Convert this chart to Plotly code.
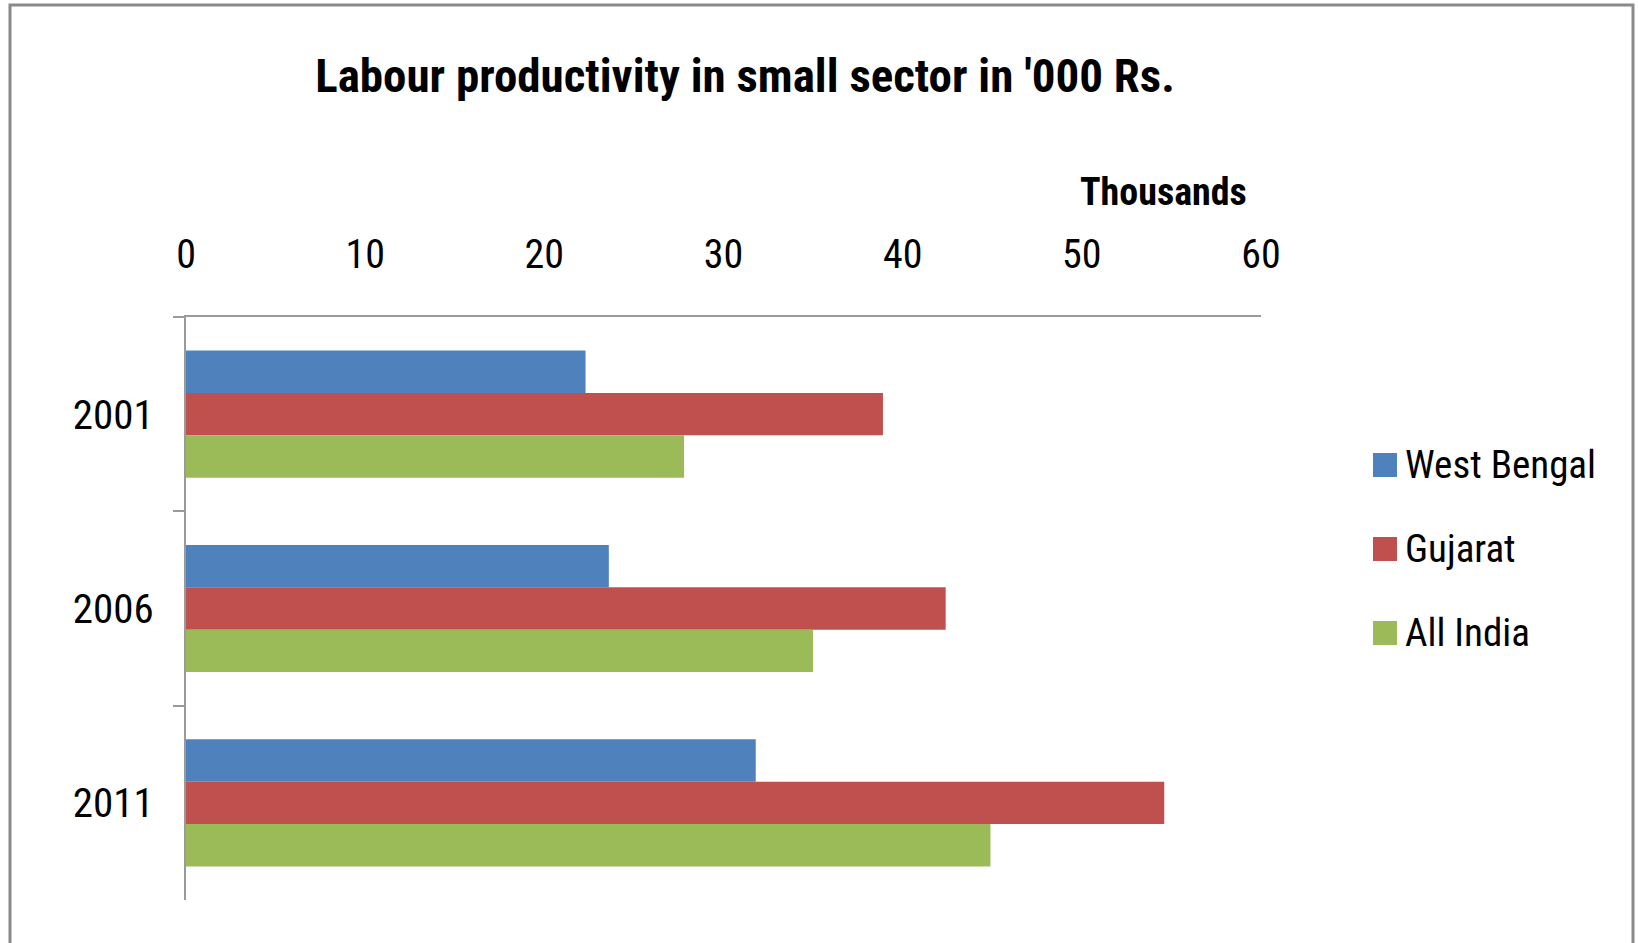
import plotly.graph_objects as go

years = ["2001", "2006", "2011"]
series_names = ["West Bengal", "Gujarat", "All India"]
west_bengal = [22300, 23600, 31800]
gujarat = [38900, 42400, 54600]
all_india = [27800, 35000, 44900]
tick_values = [0, 10000, 20000, 30000, 40000, 50000, 60000]
tick_labels = ["0", "10", "20", "30", "40", "50", "60"]

colors = ["#4F81BD", "#C0504D", "#9BBB59"]
FONT = "Liberation Sans Narrow, Roboto Condensed, DejaVu Sans Condensed, Liberation Sans, sans-serif"

W, H = 1638, 943
L, R, T, B = 186, 1261, 317, 900

def px(x):
    return (x - L) / (R - L)

def py(y):
    return (B - y) / (B - T)

fig = go.Figure()
for name, vals, col in zip(series_names, [west_bengal, gujarat, all_india], colors):
    fig.add_trace(go.Bar(
        y=years, x=vals, name=name, orientation="h",
        marker=dict(color=col, line=dict(width=0)),
        showlegend=False,
    ))

# manual legend
leg_y = [465, 549, 633]
for name, col, yc in zip(series_names, colors, leg_y):
    fig.add_shape(type="rect", xref="paper", yref="paper",
                  x0=px(1373), x1=px(1397), y0=py(yc + 12), y1=py(yc - 12),
                  fillcolor=col, line=dict(width=0))
    fig.add_annotation(xref="paper", yref="paper", x=px(1403), y=py(yc),
                       text=name, showarrow=False, xanchor="left", yanchor="middle",
                       font=dict(family=FONT, size=39, color="#000"))

# outer border
fig.add_shape(type="rect", xref="paper", yref="paper",
              x0=px(10), x1=px(1633), y0=py(960), y1=py(5),
              line=dict(color="#8a8a8a", width=3), fillcolor="rgba(0,0,0,0)", layer="below")

fig.add_annotation(xref="paper", yref="paper", x=px(1163), y=py(192),
                   text="<b>Thousands</b>", showarrow=False, xanchor="center", yanchor="middle",
                   font=dict(family=FONT, size=38, color="#000"))

fig.update_layout(
    width=W, height=H,
    margin=dict(l=L, r=W - R, t=T, b=H - B, autoexpand=False),
    paper_bgcolor="white", plot_bgcolor="white",
    barmode="group", bargap=0.346, bargroupgap=0,
    title=dict(text="<b>Labour productivity in small sector in '000 Rs.</b>",
               x=745 / W, xanchor="center", xref="container",
               y=1 - 76 / H, yanchor="middle", yref="container",
               font=dict(family=FONT, size=47, color="#000")),
    font=dict(family=FONT, size=40, color="#000"),
)
fig.update_xaxes(side="top", range=[0, 60000], tickvals=tick_values, ticktext=tick_labels,
                 showgrid=False, zeroline=False, showline=True, linecolor="#9a9a9a", linewidth=2,
                 ticks="", ticklabelstandoff=31, tickfont=dict(family=FONT, size=40, color="#000"))
fig.update_yaxes(autorange="reversed", type="category", showgrid=False, zeroline=False,
                 showline=True, linecolor="#9a9a9a", linewidth=2,
                 ticks="outside", tickson="boundaries", ticklen=11, tickcolor="#9a9a9a", tickwidth=2,
                 ticklabelstandoff=22, tickfont=dict(family=FONT, size=41, color="#000"))

fig.write_html("out.html")
